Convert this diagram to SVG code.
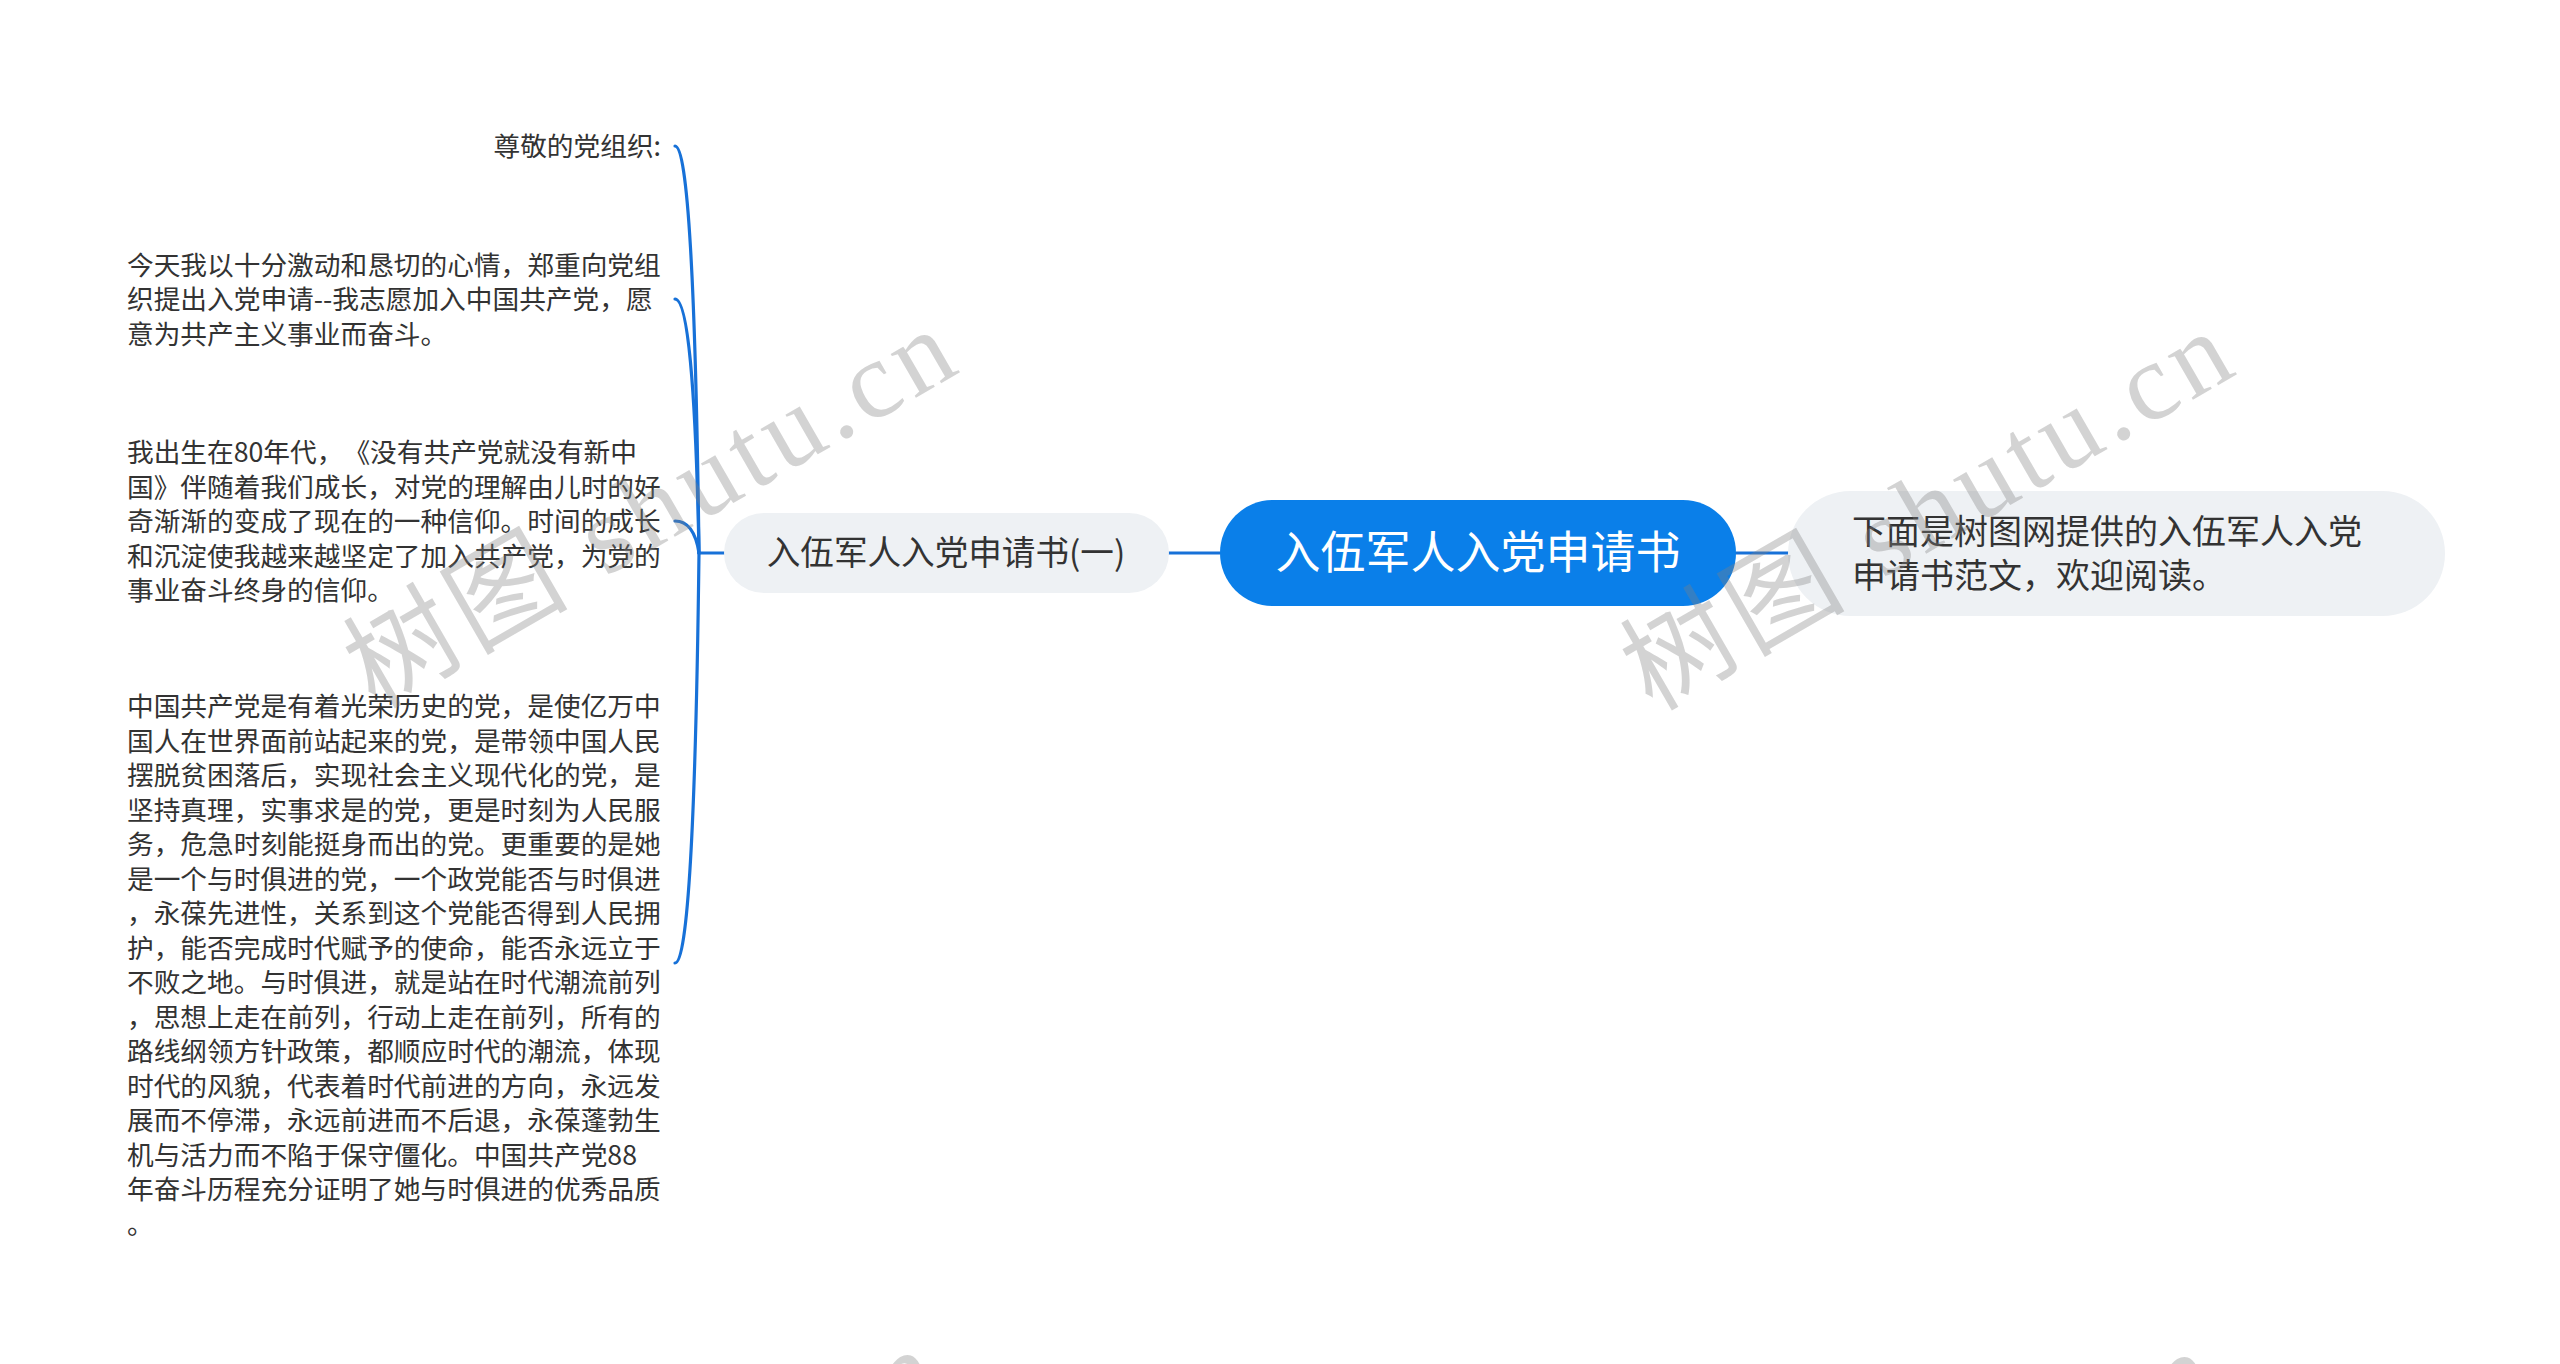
<svg xmlns="http://www.w3.org/2000/svg" width="2560" height="1364" viewBox="0 0 2560 1364">
<style>
text{text-spacing-trim:space-all}
.leaf{font-family:"Noto Sans CJK SC","Noto Sans",sans-serif;font-size:26.7px;fill:#333333}
.sub{font-family:"Noto Sans CJK SC","Noto Sans",sans-serif;fill:#333333}
.root{font-family:"Noto Sans CJK SC","Noto Sans",sans-serif;font-size:45px;fill:#ffffff}
.conn{fill:none;stroke:#1771d8;stroke-width:3.2;stroke-linecap:round}
.wm{font-family:"Liberation Serif","Noto Sans CJK SC",serif;font-size:110px;fill:#808080;fill-opacity:0.35;letter-spacing:6px}
</style>
<rect x="0" y="0" width="2560" height="1364" fill="#ffffff"/>
<g id="connectors">
<path class="conn" d="M1169 553 L1220 553"/>
<path class="conn" d="M1736 553 L1788 553"/>
<path class="conn" d="M724 553 L699 553"/>
<path class="conn" d="M675 146 Q694 146 699 553"/>
<path class="conn" d="M675 299 Q694 299 699 553"/>
<path class="conn" d="M675 521 Q694 521 699 553"/>
<path class="conn" d="M675 963 Q694 963 699 553"/>
</g>
<g id="root">
<rect x="1220" y="500" width="516" height="106" rx="53" ry="53" fill="#0a7fe9"/>
<text class="root" x="1478" y="569" text-anchor="middle">入伍军人入党申请书</text>
</g>
<g id="node-left">
<rect x="724" y="513" width="445" height="80" rx="40" ry="40" fill="#eef1f4"/>
<text class="sub" x="946" y="565" font-size="33.6" text-anchor="middle">入伍军人入党申请书(一)</text>
</g>
<g id="node-right">
<rect x="1788" y="491" width="657" height="125" rx="62.5" ry="62.5" fill="#eef1f4"/>
<text class="sub" font-size="34">
<tspan x="1852" y="543.5">下面是树图网提供的入伍军人入党</tspan>
<tspan x="1852" y="587.5">申请书范文，欢迎阅读。</tspan>
</text>
</g>
<g id="leaf-1">
<text class="leaf" x="661" y="156" text-anchor="end">尊敬的党组织:</text>
</g>
<g id="leaf-2">
<text class="leaf">
<tspan x="127" y="274.5">今天我以十分激动和恳切的心情，郑重向党组</tspan>
<tspan x="127" y="309">织提出入党申请--我志愿加入中国共产党，愿</tspan>
<tspan x="127" y="343.5">意为共产主义事业而奋斗。</tspan>
</text>
</g>
<g id="leaf-3">
<text class="leaf">
<tspan x="127" y="462">我出生在80年代，《没有共产党就没有新中</tspan>
<tspan x="127" y="496.5">国》伴随着我们成长，对党的理解由儿时的好</tspan>
<tspan x="127" y="531">奇渐渐的变成了现在的一种信仰。时间的成长</tspan>
<tspan x="127" y="565.5">和沉淀使我越来越坚定了加入共产党，为党的</tspan>
<tspan x="127" y="600">事业奋斗终身的信仰。</tspan>
</text>
</g>
<g id="leaf-4">
<text class="leaf">
<tspan x="127" y="716">中国共产党是有着光荣历史的党，是使亿万中</tspan>
<tspan x="127" y="750.5">国人在世界面前站起来的党，是带领中国人民</tspan>
<tspan x="127" y="785">摆脱贫困落后，实现社会主义现代化的党，是</tspan>
<tspan x="127" y="819.5">坚持真理，实事求是的党，更是时刻为人民服</tspan>
<tspan x="127" y="854">务，危急时刻能挺身而出的党。更重要的是她</tspan>
<tspan x="127" y="888.5">是一个与时俱进的党，一个政党能否与时俱进</tspan>
<tspan x="127" y="923">，永葆先进性，关系到这个党能否得到人民拥</tspan>
<tspan x="127" y="957.5">护，能否完成时代赋予的使命，能否永远立于</tspan>
<tspan x="127" y="992">不败之地。与时俱进，就是站在时代潮流前列</tspan>
<tspan x="127" y="1026.5">，思想上走在前列，行动上走在前列，所有的</tspan>
<tspan x="127" y="1061">路线纲领方针政策，都顺应时代的潮流，体现</tspan>
<tspan x="127" y="1095.5">时代的风貌，代表着时代前进的方向，永远发</tspan>
<tspan x="127" y="1130">展而不停滞，永远前进而不后退，永葆蓬勃生</tspan>
<tspan x="127" y="1164.5">机与活力而不陷于保守僵化。中国共产党88</tspan>
<tspan x="127" y="1199">年奋斗历程充分证明了她与时俱进的优秀品质</tspan>
<tspan x="127" y="1233.5">。</tspan>
</text>
</g>
<g id="watermarks">
<text class="wm" transform="translate(375 710) rotate(-30)">树图 shutu.cn</text>
<text class="wm" transform="translate(1652 712) rotate(-30)">树图 shutu.cn</text>
<text class="wm" transform="translate(358 1730) rotate(-30)">树图 shutu.cn</text>
<text class="wm" transform="translate(1635 1732) rotate(-30)">树图 shutu.cn</text>
</g>
</svg>
